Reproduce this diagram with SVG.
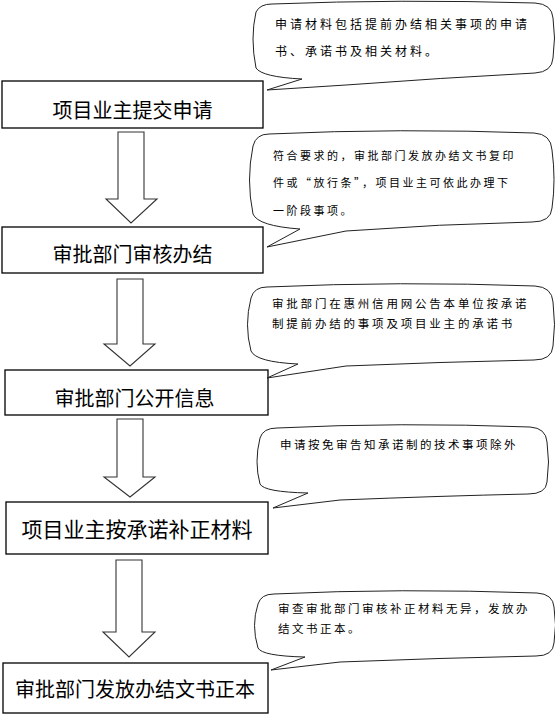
<svg xmlns="http://www.w3.org/2000/svg" width="555" height="717" viewBox="0 0 555 717">
<style>
.box{fill:#fff;stroke:#000;stroke-width:1.3}
.arrow{fill:#fff;stroke:#333;stroke-width:1.1}
.call{fill:#fff;stroke:#222;stroke-width:1}
.bt{font-family:"Noto Sans CJK SC","Noto Sans",sans-serif;font-size:20px;fill:#000;text-anchor:middle;dominant-baseline:central}
.ct{font-family:"Noto Sans CJK SC","Noto Sans",sans-serif;font-size:11.5px;fill:#000;letter-spacing:2.6px}
</style>
<rect width="555" height="717" fill="#fff"/>
<g id="connectors">
<polygon class="arrow" points="118,132 144,132 144,199 157,199 131,223 106,199 118,199"/>
<polygon class="arrow" points="117,279 143,279 143,344 155,344 130,366 104,344 117,344"/>
<polygon class="arrow" points="117,419 143,419 143,477 155,477 130,497 104,477 117,477"/>
<polygon class="arrow" points="116,560 142,560 142,632 155,632 129,657 103,632 116,632"/>
</g>
<g id="node1"><rect class="box" x="2" y="81" width="261" height="47"/><text class="bt" x="132.5" y="109">项目业主提交申请</text></g>
<g id="node2"><rect class="box" x="2" y="227" width="261" height="46"/><text class="bt" x="132.5" y="253">审批部门审核办结</text></g>
<g id="node3"><rect class="box" x="5" y="370" width="263" height="45"/><text class="bt" x="134.5" y="397">审批部门公开信息</text></g>
<g id="node4"><rect class="box" x="6" y="502" width="262" height="52"/><text class="bt" x="137" y="528" style="font-size:21px">项目业主按承诺补正材料</text></g>
<g id="node5"><rect class="box" x="3" y="663" width="265" height="50"/><text class="bt" x="135" y="688">审批部门发放办结文书正本</text></g>
<g id="callout1">
<path class="call" d="M272,4 Q400,-1 535,3 Q552,4 553,18 Q556,38 553,58 Q552,72 535,73 Q440,78 346,85 L267,90 L302,79 Q262,77 256,68 Q250,38 256,12 Q260,4 272,4 Z"/>
<text class="ct" x="275" y="29" style="font-size:12px;letter-spacing:3px">申请材料包括提前办结相关事项的申请</text>
<text class="ct" x="275" y="56" style="font-size:12px;letter-spacing:3px">书、承诺书及相关材料。</text>
</g>
<g id="callout2">
<path class="call" d="M269,134 Q400,128 534,133 Q551,134 552,150 Q556,180 552,208 Q551,222 532,222 Q440,224 346,231 L267,247 L300,229 Q258,226 253,214 Q246,180 253,146 Q256,134 269,134 Z"/>
<text class="ct" x="273" y="160" style="font-size:11px;letter-spacing:2.5px">符合要求的，审批部门发放办结文书复印</text>
<text class="ct" x="273" y="187" style="font-size:11px;letter-spacing:2.5px">件或“放行条”，项目业主可依此办理下</text>
<text class="ct" x="273" y="215" style="font-size:11px;letter-spacing:2.5px">一阶段事项。</text>
</g>
<g id="callout3">
<path class="call" d="M267,287 Q400,281 535,286 Q552,287 553,302 Q556,325 553,346 Q552,360 534,360 Q440,362 346,366 L267,378 L298,364 Q256,362 251,351 Q244,325 251,298 Q254,287 267,287 Z"/>
<text class="ct" x="272" y="308" style="letter-spacing:2.8px">审批部门在惠州信用网公告本单位按承诺</text>
<text class="ct" x="272" y="328" style="letter-spacing:2.8px">制提前办结的事项及项目业主的承诺书</text>
</g>
<g id="callout4">
<path class="call" d="M277,428 Q400,422 530,427 Q546,428 547,442 Q550,462 547,482 Q546,494 528,494 Q440,496 340,500 L273,508 L308,493 Q264,492 260,484 Q254,462 260,438 Q263,428 277,428 Z"/>
<text class="ct" x="280" y="449" style="letter-spacing:2.5px">申请按免审告知承诺制的技术事项除外</text>
</g>
<g id="callout5">
<path class="call" d="M274,594 Q400,588 537,593 Q553,594 554,607 Q557,625 554,643 Q553,656 536,656 Q440,658 340,662 L271,670 L305,657 Q262,656 258,648 Q251,625 258,604 Q261,594 274,594 Z"/>
<text class="ct" x="278" y="613" style="letter-spacing:2.5px">审查审批部门审核补正材料无异，发放办</text>
<text class="ct" x="278" y="633" style="letter-spacing:2.5px">结文书正本。</text>
</g>
</svg>
